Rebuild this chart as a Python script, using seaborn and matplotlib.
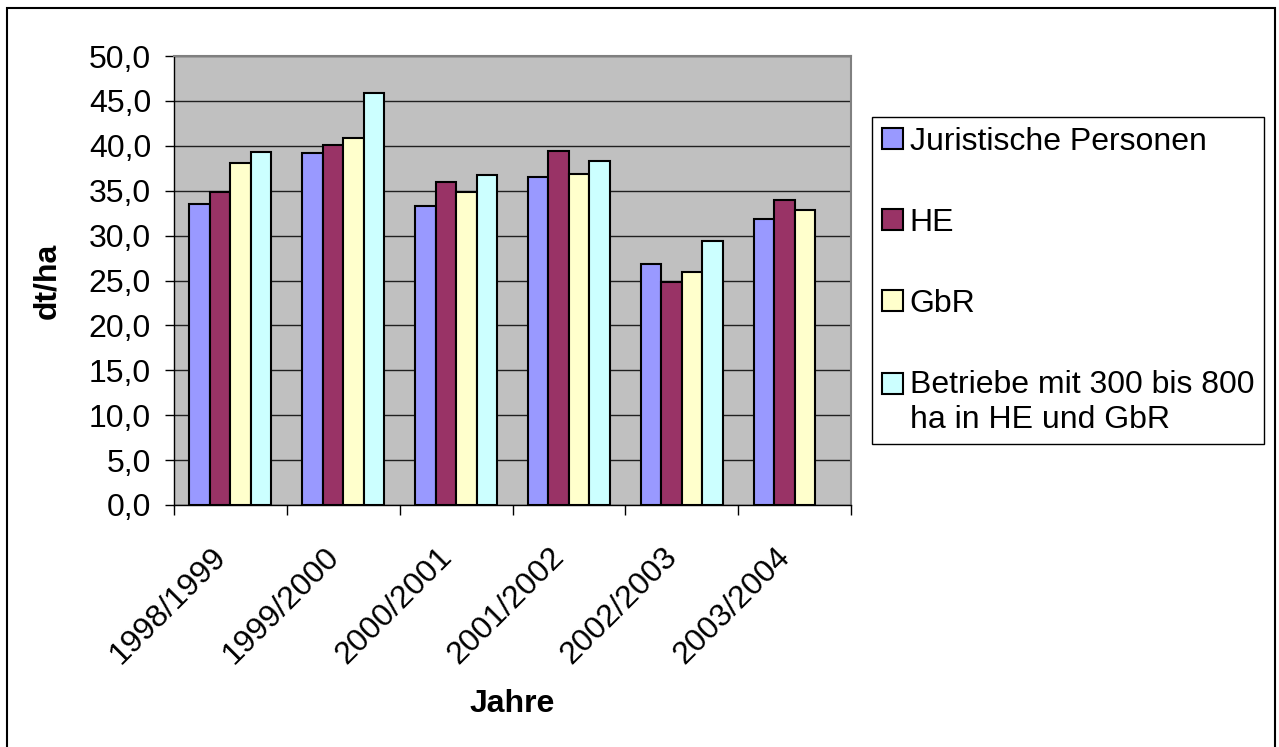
import numpy as np
import pandas as pd
import matplotlib
matplotlib.use('Agg')
import matplotlib.pyplot as plt
import matplotlib.transforms as mtransforms
import seaborn as sns
from matplotlib.patches import Patch, Rectangle
from matplotlib.legend_handler import HandlerPatch
from matplotlib.ticker import FuncFormatter

# Daten (dt/ha) je Wirtschaftsjahr
jahre = ['1998/1999', '1999/2000', '2000/2001', '2001/2002', '2002/2003', '2003/2004']
juristische = [33.5, 39.2, 33.3, 36.5, 26.8, 31.9]
he = [34.8, 40.1, 36.0, 39.4, 24.8, 34.0]
gbr = [38.1, 40.9, 34.8, 36.9, 26.0, 32.8]
betriebe = [39.3, 45.9, 36.7, 38.3, 29.4, np.nan]

gruppen = ['Juristische Personen', 'HE', 'GbR',
           'Betriebe mit 300 bis 800\nha in HE und GbR']
farben = ['#9999FF', '#993366', '#FFFFCC', '#CCFFFF']

sns.set_style('ticks')
plt.rcParams['font.family'] = ['Liberation Sans', 'DejaVu Sans']
plt.rcParams['text.color'] = 'black'
plt.rcParams['axes.labelcolor'] = 'black'
plt.rcParams['xtick.color'] = 'black'
plt.rcParams['ytick.color'] = 'black'

df = pd.DataFrame({'Jahr': jahre,
                   gruppen[0]: juristische,
                   gruppen[1]: he,
                   gruppen[2]: gbr,
                   gruppen[3]: betriebe})
df = df.melt(id_vars='Jahr', var_name='Gruppe', value_name='Wert').dropna()

fig = plt.figure(figsize=(12.79, 7.47), dpi=100)
ax = fig.add_axes([174 / 1279, (747 - 505) / 747, 677 / 1279, 449 / 747])

sns.barplot(data=df, x='Jahr', y='Wert', hue='Gruppe', order=jahre,
            hue_order=gruppen, palette=farben, saturation=1,
            width=4 / 5.5, edgecolor='black', linewidth=1.5,
            errorbar=None, legend=False, ax=ax)

ax.set_facecolor('#C0C0C0')
ax.set_xlim(-0.5, 5.5)
ax.set_ylim(0, 50)
ax.set_yticks(np.arange(0, 51, 5))
ax.yaxis.set_major_formatter(FuncFormatter(lambda v, p: f'{v:.1f}'.replace('.', ',')))
ax.yaxis.grid(True, color='#202020', linewidth=1.0)
ax.set_axisbelow(True)

# Achsen / Ticks
ax.set_xticks(np.arange(-0.5, 6, 1), minor=True)
ax.tick_params(axis='x', which='major', length=0, pad=34, labelsize=23)
ax.tick_params(axis='x', which='minor', length=7, width=1, color='black', direction='out')
ax.tick_params(axis='y', length=6.5, width=1, color='black', pad=10, labelsize=23)
verschiebung = mtransforms.ScaledTranslation(-0.09, 0, fig.dpi_scale_trans)
for lbl in ax.get_xticklabels():
    lbl.set_rotation(45)
    lbl.set_ha('right')
    lbl.set_va('center')
    lbl.set_rotation_mode('anchor')
    lbl.set_transform(lbl.get_transform() + verschiebung)

for s in ['top', 'right']:
    ax.spines[s].set_visible(True)
    ax.spines[s].set_color('#808080')
    ax.spines[s].set_linewidth(1.5)
for s in ['left', 'bottom']:
    ax.spines[s].set_color('black')
    ax.spines[s].set_linewidth(1.0)

ax.set_xlabel('Jahre', fontsize=23, fontweight='bold')
ax.xaxis.set_label_coords(0.5, -0.41)
ax.set_ylabel('dt/ha', fontsize=23, fontweight='bold')
ax.yaxis.set_label_coords(-0.165, 0.5)

# Legende
handles = [Patch(facecolor=c, edgecolor='black', linewidth=1.5) for c in farben]


def oben_patch(legend, orig_handle, xdescent, ydescent, width, height, fontsize):
    # Kaestchen an der ersten Zeile ausrichten
    return Rectangle((-xdescent, -ydescent + 0.6 * fontsize), width, height)


leg = fig.legend(handles, gruppen, loc='upper left',
                 bbox_to_anchor=(872 / 1279, 1 - 117 / 747),
                 fontsize=23, frameon=True, fancybox=False, edgecolor='black',
                 framealpha=1, borderpad=0.3, labelspacing=1.6,
                 handlelength=0.66, handleheight=0.66, handletextpad=0.22,
                 borderaxespad=0,
                 handler_map={handles[3]: HandlerPatch(patch_func=oben_patch)})
leg.get_frame().set_linewidth(1.0)

# Rahmen um das Diagramm
fig.add_artist(Rectangle((6.5 / 1279, -0.02), (1274.5 - 6.5) / 1279, 1 - 8 / 747 + 0.02,
                         transform=fig.transFigure, fill=False,
                         edgecolor='black', linewidth=1.5, clip_on=False))

fig.savefig('out.png', dpi=100)
